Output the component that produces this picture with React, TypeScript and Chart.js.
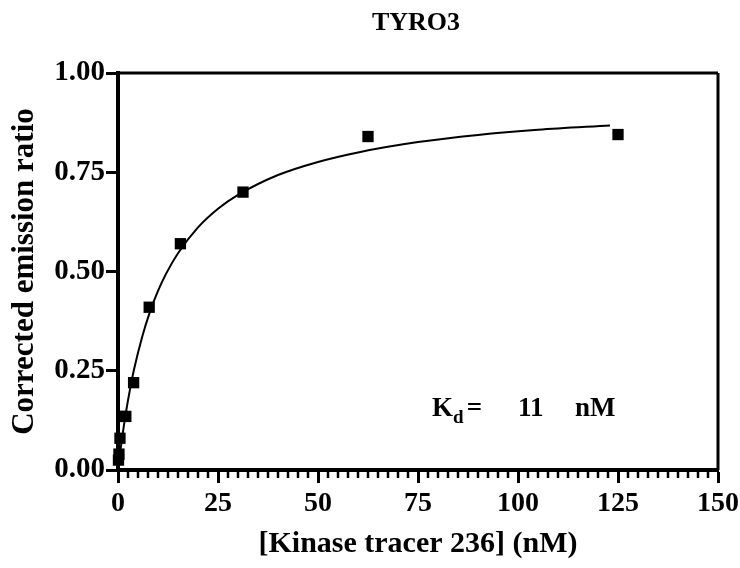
import React, { useEffect, useRef } from 'react';
import { Chart, registerables } from 'chart.js';

Chart.register(...registerables);

// Measured points: tracer concentration (nM) vs corrected emission ratio
const concentrations = [0.12, 0.24, 0.49, 0.98, 1.95, 3.9, 7.8, 15.6, 31.25, 62.5, 125];
const ratios = [0.025, 0.04, 0.08, 0.135, 0.135, 0.22, 0.41, 0.57, 0.7, 0.84, 0.845];

// Fitted saturation curve
const fitX = [0, 0.5, 1, 2, 3, 4, 6, 8, 10, 12, 15, 20, 25, 30, 40, 50, 60, 75, 90, 105, 123];
const fitY = [0, 0.041, 0.079, 0.146, 0.203, 0.253, 0.334, 0.399, 0.451, 0.494, 0.546, 0.611, 0.658, 0.693, 0.743, 0.776, 0.8, 0.826, 0.844, 0.857, 0.868];

const xTicks = [0, 25, 50, 75, 100, 125, 150];
const yTicks = [0, 0.25, 0.5, 0.75, 1.0];
const xMinorStep = 2.5;

const chartTitle = 'TYRO3';
const xTitle = '[Kinase tracer 236] (nM)';
const yTitle = 'Corrected emission ratio';
const kdValue = '11';

const FONT = '"Liberation Serif", "Times New Roman", serif';

const framePlugin = {
  id: 'frame',
  afterDraw(chart: any) {
    const { ctx, chartArea } = chart;
    const xs = chart.scales.x;
    const { left, right, top, bottom } = chartArea;
    ctx.save();
    ctx.strokeStyle = '#000';
    // top and right borders
    ctx.lineWidth = 3;
    ctx.beginPath();
    ctx.moveTo(left, top);
    ctx.lineTo(right, top);
    ctx.moveTo(right, top);
    ctx.lineTo(right, bottom);
    ctx.stroke();
    // minor ticks on x
    ctx.lineWidth = 2.5;
    ctx.beginPath();
    for (let v = xs.min; v <= xs.max + 1e-9; v += xMinorStep) {
      if (Math.abs(v / 25 - Math.round(v / 25)) < 1e-6) continue;
      const px = xs.getPixelForValue(v);
      ctx.moveTo(px, bottom);
      ctx.lineTo(px, bottom + 8);
    }
    ctx.stroke();
    // title
    ctx.fillStyle = '#000';
    ctx.textAlign = 'center';
    ctx.textBaseline = 'alphabetic';
    ctx.font = `bold 26px ${FONT}`;
    ctx.fillText(chartTitle, 416, 30);
    // Kd annotation
    const kx = xs.getPixelForValue(78.5);
    const ky = 416;
    ctx.textAlign = 'left';
    ctx.font = `bold 27px ${FONT}`;
    ctx.fillText('K', kx, ky);
    const kw = ctx.measureText('K').width;
    ctx.font = `bold 19px ${FONT}`;
    ctx.fillText('d', kx + kw, ky + 7);
    ctx.font = `bold 27px ${FONT}`;
    ctx.fillText('=', xs.getPixelForValue(87.2), ky);
    ctx.fillText(kdValue, xs.getPixelForValue(100), ky);
    ctx.fillText('nM', xs.getPixelForValue(114.25), ky);
    ctx.restore();
  },
};

export default function App() {
  const canvasRef = useRef<HTMLCanvasElement | null>(null);

  useEffect(() => {
    document.body.style.margin = '0';
    const canvas = canvasRef.current;
    if (!canvas) return;
    const chart = new Chart(canvas, {
      type: 'scatter',
      data: {
        datasets: [
          {
            label: 'fit',
            data: fitX.map((x, i) => ({ x, y: fitY[i] })),
            showLine: true,
            borderColor: '#000',
            borderWidth: 2,
            pointRadius: 0,
            cubicInterpolationMode: 'monotone',
            clip: false,
          } as any,
          {
            label: 'data',
            data: concentrations.map((x, i) => ({ x, y: ratios[i] })),
            pointStyle: 'rect',
            pointRadius: 8,
            backgroundColor: '#000',
            borderColor: '#000',
            borderWidth: 0,
            clip: false,
          } as any,
        ],
      },
      options: {
        responsive: false,
        animation: false,
        devicePixelRatio: 1,
        layout: { padding: { top: 73, right: 22, left: 0, bottom: 0 } },
        plugins: {
          legend: { display: false },
          tooltip: { enabled: false },
          title: { display: false },
        },
        scales: {
          x: {
            type: 'linear',
            min: 0,
            max: 150,
            afterBuildTicks: (s: any) => {
              s.ticks = xTicks.map((v) => ({ value: v }));
            },
            afterFit: (s: any) => {
              s.height = 98;
              s.paddingRight = 0;
              s.paddingLeft = 0;
            },
            ticks: {
              color: '#000',
              font: { family: FONT, size: 28, weight: 'bold' },
              padding: 4,
              maxRotation: 0,
              autoSkip: false,
            },
            grid: {
              drawOnChartArea: false,
              drawTicks: true,
              tickLength: 13,
              tickWidth: 3,
              tickColor: '#000',
            },
            border: { display: true, color: '#000', width: 4 },
            title: {
              display: true,
              text: xTitle,
              color: '#000',
              font: { family: FONT, size: 30, weight: 'bold' },
              padding: { top: 0, bottom: 6 },
            },
          },
          y: {
            type: 'linear',
            min: 0,
            max: 1,
            afterBuildTicks: (s: any) => {
              s.ticks = yTicks.map((v) => ({ value: v }));
            },
            afterFit: (s: any) => {
              s.width = 118;
              s.paddingTop = 0;
              s.paddingBottom = 0;
            },
            ticks: {
              color: '#000',
              font: { family: FONT, size: 29, weight: 'bold' },
              padding: 1,
              callback: (v: any) => Number(v).toFixed(2),
            },
            grid: {
              drawOnChartArea: false,
              drawTicks: true,
              tickLength: 12,
              tickWidth: 3,
              tickColor: '#000',
            },
            border: { display: true, color: '#000', width: 4 },
            title: {
              display: true,
              text: yTitle,
              color: '#000',
              font: { family: FONT, size: 31, weight: 'bold' },
              padding: { top: 6, bottom: 0 },
            },
          },
        },
      },
      plugins: [framePlugin],
    });
    return () => chart.destroy();
  }, []);

  return (
    <div style={{ width: 740, height: 568 }}>
      <canvas ref={canvasRef} width={740} height={568} style={{ display: 'block' }} />
    </div>
  );
}
